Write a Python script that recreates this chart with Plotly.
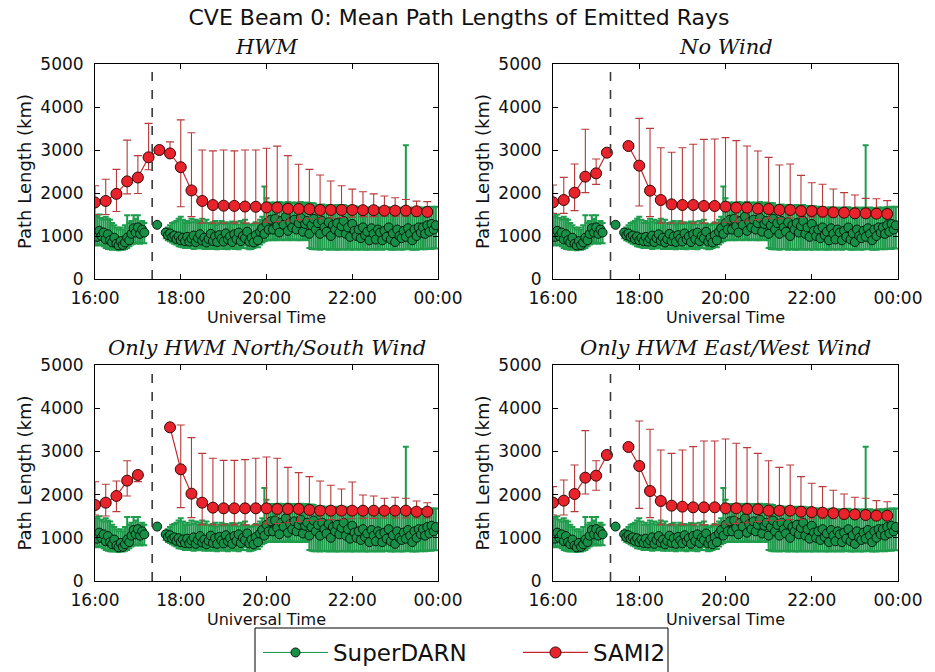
import plotly.graph_objects as go

# ---------------- data ----------------
panel_titles = ["HWM", "No Wind", "Only HWM North/South Wind", "Only HWM East/West Wind"]
x_tick_hours = [16, 18, 20, 22, 24]
x_tick_labels = ["16:00", "18:00", "20:00", "22:00", "00:00"]
y_tick_vals = [0, 1000, 2000, 3000, 4000, 5000]
cutoff_time_min = 17 * 60 + 20  # dashed vertical line (17:20 UT)

# SAMI2: every 15 min from 16:00 to 23:45
sami_minutes = [16 * 60 + 15 * i for i in range(32)]

sami_hwm = [1780, 1815, 1980, 2270, 2360, 2830, 3000, 2920, 2600, 2060, 1815, 1720, 1705, 1700, 1685, 1680,
            1665, 1660, 1635, 1630, 1625, 1605, 1605, 1605, 1605, 1600, 1600, 1590, 1590, 1590, 1575, 1560]
sami_hwm_hi = [2170, 2320, 2550, 3230, 2870, 3620, 3000, 3190, 3700, 3400, 3000, 2980, 3000, 2980, 3000, 3000,
               3040, 3090, 2870, 2670, 2550, 2420, 2280, 2170, 2090, 2030, 1980, 1930, 1890, 1850, 1810, 1800]
sami_hwm_lo = [1500, 1500, 1570, 1980, 1990, 2540, 3000, 2920, 1680, 1450, 1300, 1300, 1300, 1300, 1300, 1300,
               1320, 1330, 1350, 1380, 1400, 1400, 1420, 1430, 1440, 1450, 1450, 1460, 1460, 1460, 1460, 1460]

sami_nowind = [1783, 1837, 2008, 2380, 2457, 2938, None, 3093, 2636, 2054, 1837, 1736, 1721, 1721, 1698, 1698,
               1682, 1659, 1659, 1636, 1628, 1605, 1605, 1581, 1581, 1566, 1550, 1543, 1527, 1527, 1519, 1512]
sami_nowind_hi = [2186, 2364, 2674, 3481, 2791, 2938, None, 3093, 3736, 3504, 3054, 2946, 3054, 3132, 3248, 3256,
                  3287, 3217, 3093, 2977, 2829, 2651, 2674, 2411, 2240, 2202, 2093, 2008, 1953, 1876, 1868, 1822]
sami_nowind_lo = [1527, 1527, 1589, 2008, 2200, 2938, None, 3093, 1698, 1450, 1300, 1300, 1300, 1300, 1300, 1300,
                  1320, 1330, 1350, 1380, 1400, 1400, 1420, 1430, 1440, 1440, 1440, 1440, 1440, 1440, 1440, 1440]

sami_ns = [1759, 1813, 1968, 2323, 2454, None, None, 3557, 2585, 2022, 1813, 1698, 1682, 1682, 1682, 1682,
           1682, 1667, 1667, 1667, 1644, 1628, 1628, 1628, 1628, 1628, 1628, 1628, 1628, 1628, 1605, 1605]
sami_ns_hi = [2299, 2238, 2315, 2785, 2454, None, None, 3557, 3611, 3318, 2955, 2840, 2793, 2793, 2809, 2840,
              2870, 2840, 2631, 2508, 2415, 2315, 2215, 2130, 2292, 1991, 1968, 1914, 1937, 1914, 1852, 1813]
sami_ns_lo = [1528, 1505, 1605, 1968, 2300, None, None, 3557, 1698, 1466, 1300, 1300, 1300, 1300, 1300, 1300,
              1320, 1330, 1350, 1380, 1400, 1400, 1420, 1430, 1440, 1450, 1450, 1460, 1460, 1460, 1460, 1460]

sami_ew = [1813, 1860, 2014, 2392, 2438, 2917, None, 3102, 2662, 2083, 1852, 1744, 1721, 1705, 1705, 1705,
           1682, 1682, 1667, 1660, 1628, 1628, 1628, 1605, 1595, 1582, 1570, 1551, 1540, 1528, 1512, 1512]
sami_ew_hi = [2184, 2338, 2685, 3480, 2785, 2917, None, 3102, 3704, 3511, 3032, 2955, 3032, 3110, 3241, 3241,
              3287, 3187, 3087, 2955, 2785, 2631, 2685, 2415, 2261, 2184, 2099, 2014, 1937, 1914, 1860, 1836]
sami_ew_lo = [1528, 1528, 1605, 2014, 2100, 2917, None, 3102, 1682, 1466, 1300, 1300, 1300, 1300, 1300, 1300,
              1320, 1330, 1350, 1380, 1400, 1400, 1420, 1430, 1440, 1440, 1440, 1440, 1440, 1440, 1440, 1440]

# SuperDARN observations (same in every panel), 3-min cadence with gaps
sd_seg1_minutes = [16 * 60 + 3 * i for i in range(24)]          # 16:00 - 17:09
sd_seg2_minutes = [17 * 60 + 27]                                  # 17:27
sd_seg3_minutes = [17 * 60 + 39 + 3 * i for i in range(127)]     # 17:39 - 23:57

sd_seg1 = [1060, 980, 1120, 1000, 1080, 920, 1040, 900, 850, 960, 820, 780, 880, 790, 850, 960,
           900, 1050, 1180, 1080, 1200, 1050, 1150, 1080]
sd_seg1_hi = [1480, 1450, 1500, 1420, 1380, 1450, 1400, 1380, 1300, 1250, 1200, 1150, 1200, 1150, 1250, 1480,
              1300, 1350, 1480, 1400, 1480, 1300, 1350, 1300]
sd_seg1_lo = [790, 780, 800, 790, 760, 720, 700, 690, 680, 700, 680, 670, 690, 680, 700, 720,
              760, 800, 820, 830, 850, 820, 840, 830]

sd_seg2 = [1260]
sd_seg2_hi = [1260]
sd_seg2_lo = [1260]

sd_seg3 = [1080, 1020, 1060, 980, 1010, 930, 990, 900, 960, 880,
           980, 870, 940, 1010, 860, 950, 1040, 890, 960, 850,
           930, 1050, 880, 990, 860, 1020, 940, 870, 1060, 920,
           990, 860, 1040, 930, 1080, 880, 1000, 950, 1100, 870,
           960, 850, 1020, 900, 1100, 1180, 1050, 1300, 1150, 1380,
           1150, 1400, 1230, 1080, 1350, 1260, 1450, 1120, 1320, 1200,
           1380, 1150, 1300, 1420, 1100, 1280, 1350, 1050, 1250, 1400,
           1150, 1300, 1050, 1350, 1200, 1100, 1320, 1000, 1250, 1150,
           1300, 1080, 1230, 1350, 1050, 1200, 980, 1280, 1120, 1000,
           1150, 950, 1200, 1020, 1100, 900, 1180, 1050, 920, 1150,
           1080, 900, 1120, 980, 1200, 920, 1060, 860, 1150, 1000,
           950, 1120, 980, 1180, 1050, 900, 1150, 1000, 1200, 1080,
           1200, 1050, 1250, 1100, 1280, 1150, 1250]
sd_seg3_hi = [1150, 1200, 1250, 1300, 1320, 1350, 1400, 1450, 1380, 1300,
              1350, 1300, 1400, 1330, 1380, 1300, 1350, 1400, 1320, 1380,
              1300, 1280, 1320, 1350, 1260, 1300, 1350, 1280, 1320, 1290,
              1300, 1340, 1280, 1330, 1270, 1350, 1300, 1380, 1290, 1260,
              1250, 1280, 1320, 1300, 1380, 1450, 2150, 1880, 1750, 1780,
              1760, 1780, 1750, 1790, 1760, 1780, 1770, 1790, 1760, 1780,
              1770, 1780, 1760, 1790, 1770, 1750, 1780, 1760, 1770, 1760,
              1700, 1720, 1700, 1730, 1700, 1710, 1720, 1690, 1700, 1710,
              1720, 1700, 1710, 1720, 1700, 1690, 1700, 1680, 1690, 1670,
              1680, 1660, 1670, 1650, 1660, 1640, 1670, 1650, 1640, 1660,
              1650, 1640, 1660, 1650, 1670, 1640, 1650, 1630, 1660, 1650,
              1640, 1660, 3110, 1650, 1660, 1640, 1650, 1640, 1660, 1650,
              1660, 1650, 1670, 1660, 1680, 1670, 1680]
sd_seg3_lo = [950, 900, 880, 850, 820, 800, 760, 750, 740, 720,
              730, 720, 760, 700, 740, 710, 720, 760, 700, 740,
              700, 720, 700, 740, 690, 710, 750, 700, 720, 690,
              720, 760, 700, 740, 690, 750, 720, 780, 710, 690,
              700, 720, 760, 740, 800, 850, 880, 900, 900, 920,
              900, 920, 900, 910, 920, 900, 910, 930, 900, 920,
              910, 900, 920, 900, 910, 920, 900, 720, 700, 690,
              690, 700, 680, 700, 690, 700, 680, 690, 700, 680,
              690, 680, 700, 690, 680, 700, 690, 680, 690, 700,
              680, 690, 700, 680, 690, 680, 700, 690, 680, 700,
              690, 680, 700, 690, 700, 680, 690, 680, 700, 690,
              680, 690, 700, 690, 700, 680, 690, 680, 700, 690,
              700, 690, 700, 710, 700, 720, 710]

# ---------------- build ----------------
def hours(mins):
    return [None if m is None else m / 60.0 for m in mins]

def errs(mean, hi, lo):
    plus = [0 if v is None else h - v for v, h in zip(mean, hi)]
    minus = [0 if v is None else v - l for v, l in zip(mean, lo)]
    return plus, minus

gap1 = (sd_seg1_minutes[-1] + sd_seg2_minutes[0]) / 2
gap2 = (sd_seg2_minutes[-1] + sd_seg3_minutes[0]) / 2
sd_minutes = sd_seg1_minutes + [gap1] + sd_seg2_minutes + [gap2] + sd_seg3_minutes
sd_mean = sd_seg1 + [None] + sd_seg2 + [None] + sd_seg3
sd_hi = sd_seg1_hi + [None] + sd_seg2_hi + [None] + sd_seg3_hi
sd_lo = sd_seg1_lo + [None] + sd_seg2_lo + [None] + sd_seg3_lo
sd_plus, sd_minus = errs(sd_mean, sd_hi, sd_lo)

sami_sets = [(sami_hwm, sami_hwm_hi, sami_hwm_lo),
             (sami_nowind, sami_nowind_hi, sami_nowind_lo),
             (sami_ns, sami_ns_hi, sami_ns_lo),
             (sami_ew, sami_ew_hi, sami_ew_lo)]

W, H = 935, 672
boxes = [(95, 438, 64, 279), (553, 898, 64, 279), (95, 438, 365, 581), (553, 898, 365, 581)]

GREEN = "#178f47"
GREEN_ERR = "#1e9c4c"
RED = "#e8232b"
RED_ERR = "#b8393a"

fig = go.Figure()
for i, (mean, hi, lo) in enumerate(sami_sets):
    k = "" if i == 0 else str(i + 1)
    xa, ya = "x" + k, "y" + k
    fig.add_trace(go.Scatter(
        x=hours(sd_minutes), y=sd_mean, mode="lines+markers", name="SuperDARN",
        xaxis=xa, yaxis=ya, showlegend=(i == 0), legendgroup="sd",
        line=dict(color=GREEN, width=1),
        marker=dict(size=9, color=GREEN, line=dict(color="#051a0c", width=1)),
        error_y=dict(type="data", symmetric=False, array=sd_plus, arrayminus=sd_minus,
                     color=GREEN_ERR, thickness=2.0, width=3)))
    sp, sm = errs(mean, hi, lo)
    fig.add_trace(go.Scatter(
        x=hours(sami_minutes), y=mean, mode="lines+markers", name="SAMI2",
        xaxis=xa, yaxis=ya, showlegend=(i == 0), legendgroup="sami",
        line=dict(color="#c0282d", width=1.2),
        marker=dict(size=11, color=RED, line=dict(color="#3a0505", width=1)),
        error_y=dict(type="data", symmetric=False, array=sp, arrayminus=sm,
                     color=RED_ERR, thickness=1.1, width=4)))

    l, r, t, b = boxes[i]
    axis_common = dict(showline=True, linecolor="black", linewidth=1, mirror="ticks",
                       ticks="inside", ticklen=5, tickcolor="black", showgrid=False, zeroline=False,
                       tickfont=dict(family="DejaVu Sans", size=17, color="#111"))
    fig.layout["xaxis" + k] = dict(
        domain=[l / W, r / W], anchor=ya, range=[16, 24],
        tickvals=x_tick_hours, ticktext=x_tick_labels, ticklabelstandoff=4,
        title=dict(text="Universal Time", font=dict(family="DejaVu Sans", size=16, color="#111"), standoff=0),
        **axis_common)
    fig.layout["yaxis" + k] = dict(
        domain=[1 - b / H, 1 - t / H], anchor=xa, range=[0, 5000],
        tickvals=y_tick_vals, ticklabelstandoff=7,
        title=dict(text="Path Length (km)", font=dict(family="DejaVu Sans", size=18, color="#111"), standoff=4),
        **axis_common)
    fig.add_shape(type="line", xref=xa, yref=ya + " domain",
                  x0=cutoff_time_min / 60, x1=cutoff_time_min / 60, y0=0, y1=1,
                  line=dict(color="#3a3a3a", width=1.6, dash="dash"), layer="above")
    fig.add_annotation(text="<i>" + panel_titles[i] + "</i>", xref="paper", yref="paper",
                       x=(l + r) / 2 / W, y=1 - (t - 17) / H, xanchor="center", yanchor="middle",
                       showarrow=False, font=dict(family="DejaVu Serif", size=21, color="#111"))

# legend frame (extends past the bottom edge, as in the reference)
fig.add_shape(type="rect", xref="paper", yref="paper",
              x0=255 / W, x1=668 / W, y0=-20 / H, y1=1 - 628 / H,
              line=dict(color="black", width=1), fillcolor="white", layer="below")

fig.update_layout(
    width=W, height=H, template="none",
    paper_bgcolor="white", plot_bgcolor="white",
    margin=dict(l=0, r=0, t=0, b=0, autoexpand=False),
    title=dict(text="CVE Beam 0: Mean Path Lengths of Emitted Rays", x=459 / W, xanchor="center",
               y=1 - 17 / H, yanchor="middle", font=dict(family="DejaVu Sans", size=22, color="#111")),
    legend=dict(orientation="h", x=258 / W, xanchor="left", y=1 - 631 / H, yanchor="top",
                borderwidth=0, bgcolor="rgba(0,0,0,0)",
                font=dict(family="DejaVu Sans", size=23, color="#111"),
                entrywidth=180, entrywidthmode="pixels", itemwidth=65),
    showlegend=True,
)

fig.write_html("out.html", config={"displayModeBar": False},
               post_script="document.body.style.margin='0';document.body.style.overflow='hidden';")
